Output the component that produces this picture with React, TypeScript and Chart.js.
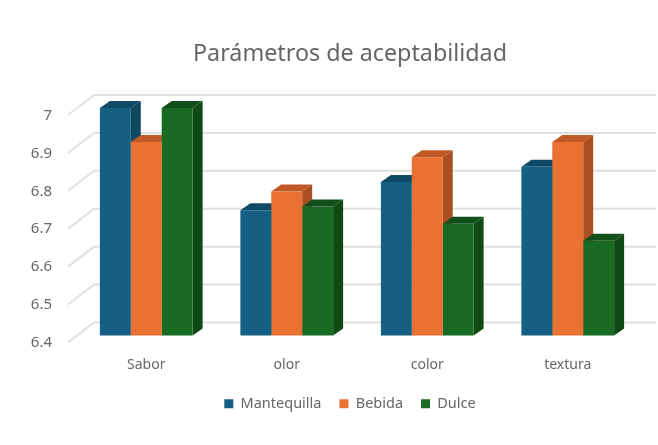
import React, { useEffect, useRef } from "react";
import { Chart, registerables } from "chart.js";

Chart.register(...registerables);

const categories = ["Sabor", "olor", "color", "textura"];
const mantequilla = [7, 6.73, 6.805, 6.845];
const bebida = [6.91, 6.78, 6.87, 6.91];
const dulce = [7, 6.74, 6.695, 6.65];
const yTicks = [6.4, 6.5, 6.6, 6.7, 6.8, 6.9, 7];

const FRONT = ["#156082", "#E97132", "#196B24"];
const TOP = ["#104A66", "#BF5A26", "#124F1A"];
const SIDE = ["#0F4761", "#A94F22", "#0F4A15"];
const GRID = "#E0E0E0";
const TEXT = "#666666";
const FONT = "'Noto Sans', sans-serif";

const DEPTH_X = 10;
const DEPTH_Y = 7;

const poly = (ctx: CanvasRenderingContext2D, pts: number[][], color: string) => {
  ctx.beginPath();
  pts.forEach(([x, y], i) => (i ? ctx.lineTo(x, y) : ctx.moveTo(x, y)));
  ctx.closePath();
  ctx.fillStyle = color;
  ctx.fill();
};

const threeD = {
  id: "threeD",
  afterLayout(chart: any) {
    // the tick labels sit left of the layout padding: widen their clip box
    chart.scales.y.left = 0;
  },
  beforeDatasetsDraw(chart: any) {
    const { ctx, scales, chartArea } = chart;
    const y = scales.y;
    ctx.save();
    // back wall and the slanted lines on the side wall
    ctx.strokeStyle = GRID;
    ctx.lineWidth = 2;
    y.ticks.forEach((t: any) => {
      const p = y.getPixelForValue(t.value);
      ctx.beginPath();
      ctx.moveTo(chartArea.left - 8, p + 7);
      ctx.lineTo(chartArea.left + 18, p - 13);
      ctx.lineTo(chartArea.right + 18, p - 13);
      ctx.stroke();
    });
    // tops and sides of the bars, left to right
    const base = y.getPixelForValue(y.min);
    const n = chart.data.labels.length;
    for (let i = 0; i < n; i++) {
      chart.data.datasets.forEach((_: any, d: number) => {
        const b = chart.getDatasetMeta(d).data[i] as any;
        const l = b.x - b.width / 2;
        const r = b.x + b.width / 2;
        const top = b.y;
        poly(ctx, [[r, top], [r + DEPTH_X, top - DEPTH_Y], [r + DEPTH_X, base - DEPTH_Y], [r, base]], SIDE[d]);
        poly(ctx, [[l, top], [l + DEPTH_X, top - DEPTH_Y], [r + DEPTH_X, top - DEPTH_Y], [r, top]], TOP[d]);
      });
    }
    ctx.restore();
  },
};

export default function App() {
  const ref = useRef<HTMLCanvasElement>(null);
  useEffect(() => {
    const chart = new Chart(ref.current!, {
      type: "bar",
      data: {
        labels: categories,
        datasets: [
          { label: "Mantequilla", data: mantequilla, backgroundColor: FRONT[0] },
          { label: "Bebida", data: bebida, backgroundColor: FRONT[1] },
          { label: "Dulce", data: dulce, backgroundColor: FRONT[2] },
        ],
      },
      options: {
        responsive: false,
        animation: false,
        layout: { padding: { left: 62, right: 20, top: 0, bottom: 24 } },
        datasets: { bar: { barPercentage: 1, categoryPercentage: 0.66 } },
        scales: {
          x: {
            grid: { display: false },
            border: { display: false },
            ticks: { color: TEXT, font: { family: FONT, size: 14 }, padding: 13 },
            afterFit(s: any) { s.height = 43; },
          },
          y: {
            min: 6.4,
            max: 7,
            afterBuildTicks(s: any) { s.ticks = yTicks.map((value) => ({ value })); },
            grid: { display: false },
            border: { display: false },
            ticks: {
              color: TEXT,
              font: { family: FONT, size: 15, lineHeight: 1 },
              padding: 16,
              autoSkip: false,
              callback: (v: any) => ["", String(v)],
            },
            afterFit(s: any) { s.width = 14; },
          },
        },
        plugins: {
          title: {
            display: true,
            text: "Parámetros de aceptabilidad",
            color: TEXT,
            font: { family: FONT, size: 23.3, weight: "normal" },
            padding: { top: 40, bottom: 40 },
          },
          legend: {
            position: "bottom",
            labels: { color: TEXT, boxWidth: 9, boxHeight: 9, padding: 18, font: { family: FONT, size: 14.5 } },
          },
          tooltip: { enabled: false },
        },
      },
      plugins: [threeD],
    } as any);
    return () => chart.destroy();
  }, []);
  return (
    <div style={{ position: "absolute", left: 0, top: 0, width: 658, height: 445, background: "#fff" }}>
      <canvas ref={ref} width={658} height={445} />
    </div>
  );
}
